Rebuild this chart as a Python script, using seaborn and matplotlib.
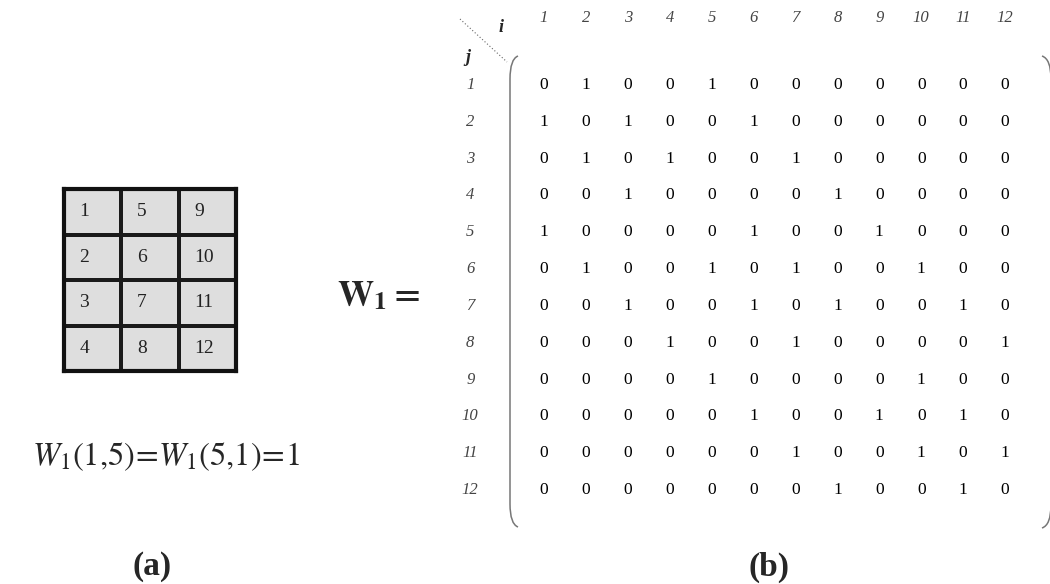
import numpy as np
import matplotlib.pyplot as plt
import seaborn as sns
from matplotlib.colors import ListedColormap
from matplotlib.path import Path
from matplotlib.patches import PathPatch

# node numbering of the 4x3 block (column-major order)
grid_ids = [[1, 5, 9],
            [2, 6, 10],
            [3, 7, 11],
            [4, 8, 12]]

# W1 adjacency matrix, row = j, column = i
w1_rows = [
    [0, 1, 0, 0, 1, 0, 0, 0, 0, 0, 0, 0],
    [1, 0, 1, 0, 0, 1, 0, 0, 0, 0, 0, 0],
    [0, 1, 0, 1, 0, 0, 1, 0, 0, 0, 0, 0],
    [0, 0, 1, 0, 0, 0, 0, 1, 0, 0, 0, 0],
    [1, 0, 0, 0, 0, 1, 0, 0, 1, 0, 0, 0],
    [0, 1, 0, 0, 1, 0, 1, 0, 0, 1, 0, 0],
    [0, 0, 1, 0, 0, 1, 0, 1, 0, 0, 1, 0],
    [0, 0, 0, 1, 0, 0, 1, 0, 0, 0, 0, 1],
    [0, 0, 0, 0, 1, 0, 0, 0, 0, 1, 0, 0],
    [0, 0, 0, 0, 0, 1, 0, 0, 1, 0, 1, 0],
    [0, 0, 0, 0, 0, 0, 1, 0, 0, 1, 0, 1],
    [0, 0, 0, 0, 0, 0, 0, 1, 0, 0, 1, 0],
]
node_labels = [str(k) for k in range(1, 13)]

sns.set_theme(style='white')
plt.rcParams['font.family'] = ['Liberation Serif', 'DejaVu Serif']
plt.rcParams['mathtext.fontset'] = 'stix'

W, H = 1050, 584
fig = plt.figure(figsize=(W / 100, H / 100), dpi=100)

# background axes in pixel units for labels / brackets
bg = fig.add_axes([0, 0, 1, 1])
bg.set_xlim(0, W)
bg.set_ylim(H, 0)
bg.axis('off')

def rect(x0, y0, x1, y1):
    return [x0 / W, 1 - y1 / H, (x1 - x0) / W, (y1 - y0) / H]

# (a) the block of pixels
ax_g = fig.add_axes(rect(64, 189, 236, 371))
sns.heatmap(np.array(grid_ids), ax=ax_g, cmap=ListedColormap(['#dedede']),
            cbar=False, annot=True, fmt='d', linewidths=1.5, linecolor='#1a1a1a',
            xticklabels=False, yticklabels=False,
            annot_kws={'fontsize': 14, 'color': '#222222'})
for t in ax_g.texts:
    x, y = t.get_position()
    t.set_position((x - 0.5 + 0.27, y))
    t.set_ha('left')
for s in ax_g.spines.values():
    s.set_visible(True)
    s.set_linewidth(3)
    s.set_color('#111111')

bg.text(166, 457, r'$W_1(1{,}5)\!=\!W_1(5{,}1)\!=\!1$', fontsize=23.5,
        ha='center', va='center')
bg.text(152, 567, '(a)', fontsize=24, fontweight='bold', ha='center', va='center')
bg.text(769, 567, '(b)', fontsize=24, fontweight='bold', ha='center', va='center')
bg.text(378, 297, r'$\mathbf{W}_\mathbf{1}\mathbf{=}$', fontsize=26, ha='center', va='center')

# (b) the matrix
ax_m = fig.add_axes(rect(523, 66.6, 1026, 508.4))
sns.heatmap(np.array(w1_rows), ax=ax_m, cmap=ListedColormap(['white']), cbar=False,
            annot=True, fmt='d', xticklabels=node_labels, yticklabels=node_labels,
            annot_kws={'fontsize': 12.5, 'color': '#000000'})
ax_m.xaxis.tick_top()
ax_m.tick_params(axis='x', length=0, pad=29, top=True, labeltop=True,
                 bottom=False, labelbottom=False)
ax_m.tick_params(axis='y', length=0, pad=38)
for lab in ax_m.get_xticklabels():
    lab.set_fontstyle('italic')
    lab.set_fontsize(12)
    lab.set_color('#444444')
for lab in ax_m.get_yticklabels():
    lab.set_fontstyle('italic')
    lab.set_fontsize(12)
    lab.set_color('#444444')
    lab.set_rotation(0)
    lab.set_ha('center')

bg.text(501, 27, 'i', fontsize=13, fontweight='bold', fontstyle='italic', ha='center', va='center')
bg.text(468, 57, 'j', fontsize=13, fontweight='bold', fontstyle='italic', ha='center', va='center')
bg.plot([460, 507], [19, 62], color='#666666', lw=0.8, ls=(0, (1, 2)))

# matrix brackets
def bracket(x0, tip, top, bot, ax):
    verts = [(tip, top), (x0, top + 3), (x0, top + 23),
             (x0, bot - 23),
             (x0, bot - 3), (tip, bot)]
    codes = [Path.MOVETO, Path.CURVE3, Path.CURVE3, Path.LINETO, Path.CURVE3, Path.CURVE3]
    ax.add_patch(PathPatch(Path(verts, codes), fill=False, edgecolor='#777777', lw=1.1))

bracket(510, 518, 56, 527, bg)
bracket(1051, 1042, 56, 528, bg)

fig.savefig('out.png', dpi=100)
